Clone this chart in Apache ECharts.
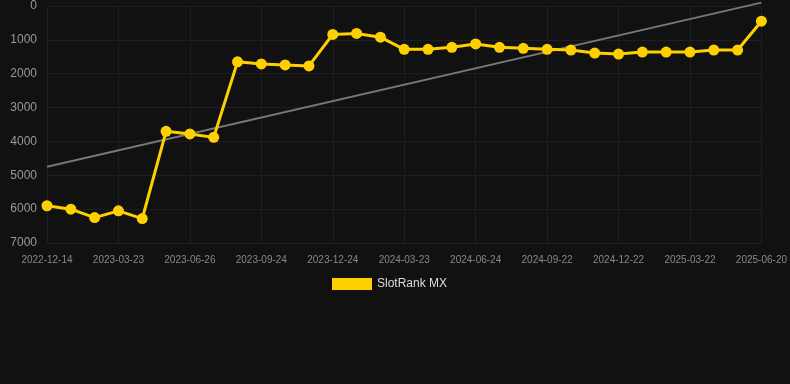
<!DOCTYPE html>
<html>
<head>
<meta charset="utf-8">
<style>
  html, body { margin: 0; padding: 0; background: #111111; }
  #chart { width: 790px; height: 384px; }
</style>
<script src="https://cdn.jsdelivr.net/npm/echarts@6/dist/echarts.min.js"></script>
</head>
<body>
<div id="chart"></div>
<script>
// 日期（类目轴）
const dates = [
  '2022-12-14', '2023-01-16', '2023-02-18', '2023-03-23', '2023-04-24', '2023-05-25',
  '2023-06-26', '2023-07-26', '2023-08-25', '2023-09-24', '2023-10-24', '2023-11-23',
  '2023-12-24', '2024-01-23', '2024-02-22', '2024-03-23', '2024-04-23', '2024-05-24',
  '2024-06-24', '2024-07-24', '2024-08-23', '2024-09-22', '2024-10-22', '2024-11-21',
  '2024-12-22', '2025-01-21', '2025-02-20', '2025-03-22', '2025-04-21', '2025-05-21',
  '2025-06-20'
]

// SlotRank MX 排名
const rankMX = [
  5900, 6000, 6250, 6050, 6280, 3700,
  3780, 3880, 1650, 1710, 1740, 1770,
  840, 810, 920, 1280, 1280, 1220,
  1120, 1220, 1250, 1280, 1300, 1390,
  1420, 1360, 1360, 1360, 1300, 1300,
  450
]

// 趋势线：只有首尾两个点
const trend = dates.map(() => null)
trend[0] = 4745
trend[dates.length - 1] = -100

const yTicks = [0, 1000, 2000, 3000, 4000, 5000, 6000, 7000]

const gridColor = '#1e1e1e'
const chart = echarts.init(document.getElementById('chart'))

chart.setOption({
  backgroundColor: '#111111',
  animation: false,
  grid: { left: 47, right: 28, top: 6, bottom: 141 },
  legend: {
    data: [{ name: 'SlotRank MX', icon: 'rect' }],
    top: 273,
    left: 327,
    itemWidth: 40,
    itemHeight: 12,
    textStyle: { color: '#dddddd', fontSize: 12, fontFamily: 'Liberation Sans, Arial, sans-serif' }
  },
  xAxis: {
    type: 'category',
    data: dates,
    boundaryGap: false,
    axisLine: { show: false },
    axisTick: { show: true, interval: 2, length: 6, lineStyle: { color: gridColor } },
    splitLine: { show: true, interval: 2, lineStyle: { color: gridColor, width: 1 } },
    axisLabel: {
      interval: 2,
      color: '#888888',
      fontSize: 10,
      margin: 12,
      fontFamily: 'Liberation Sans, Arial, sans-serif'
    }
  },
  yAxis: {
    type: 'value',
    inverse: true,
    min: yTicks[0],
    max: yTicks[yTicks.length - 1],
    interval: 1000,
    axisLine: { show: false },
    axisTick: { show: false },
    splitLine: { lineStyle: { color: gridColor, width: 1 } },
    axisLabel: {
      color: '#999999',
      fontSize: 12,
      margin: 10,
      formatter: v => String(v),
      fontFamily: 'Liberation Sans, Arial, sans-serif'
    }
  },
  series: [
    {
      name: 'trend',
      type: 'line',
      data: trend,
      connectNulls: true,
      clip: false,
      showSymbol: false,
      symbol: 'none',
      lineStyle: { color: '#777777', width: 2 },
      z: 1
    },
    {
      name: 'SlotRank MX',
      type: 'line',
      data: rankMX,
      symbol: 'circle',
      symbolSize: 11,
      itemStyle: { color: '#ffd000' },
      lineStyle: { color: '#ffd000', width: 3 },
      z: 2
    }
  ]
})
</script>
</body>
</html>
